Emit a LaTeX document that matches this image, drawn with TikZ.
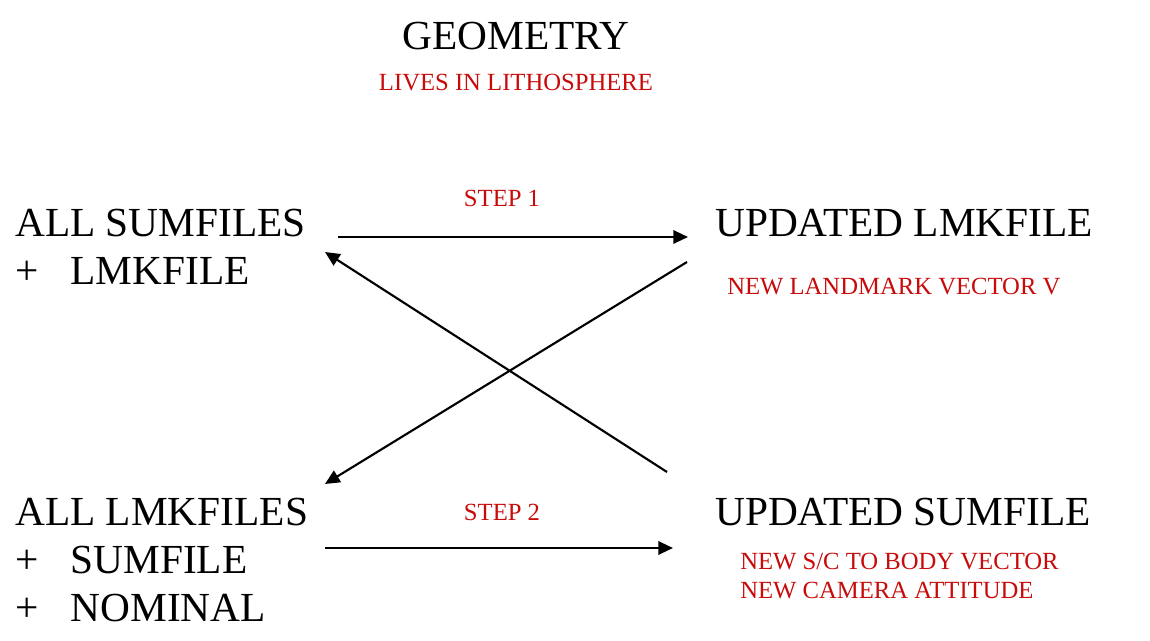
\documentclass[tikz,border=0pt]{standalone}
\usepackage{fontspec}
\setmainfont{Liberation Serif}
\usepackage{xcolor}
\usetikzlibrary{positioning, calc, arrows.meta}
\definecolor{noteRed}{RGB}{200,10,10}
\tikzset{
    bigtext/.style={
        anchor=base west,
        inner sep=0pt,
        font=\fontsize{31}{37}\selectfont
    },
    notetext/.style={
        anchor=base west,
        inner sep=0pt,
        text=noteRed,
        font=\fontsize{18.5}{22}\selectfont
    },
    ptr/.style={
        -{Triangle[length=11pt, width=10pt]},
        line width=1.6pt
    }
}
\begin{document}
\begin{tikzpicture}[x=0.75pt, y=-0.75pt]
                \useasboundingbox (0,0) rectangle (1150,641);
                % titles
                \node[bigtext, anchor=base] (geo) at (516,50) {GEOMETRY};
                \node[notetext, anchor=base] (lives) at (516,91) {LIVES IN LITHOSPHERE};
                
                % left column
                \node[bigtext] (sumall) at (15,237) {ALL SUMFILES};
                \node[bigtext] (lmkplus) at (15,285) {+\hspace{24pt}LMKFILE};
                \node[bigtext] (lmkall) at (15,525) {ALL LMKFILES};
                \node[bigtext] (sumplus) at (15,573) {+\hspace{24pt}SUMFILE};
                \node[bigtext] (nomplus) at (15,621) {+\hspace{24pt}NOMINAL};
                
                % right column
                \node[bigtext] (lmknew) at (715,237) {UPDATED LMKFILE};
                \node[notetext] (vecv) at (727,295) {NEW LANDMARK VECTOR V};
                \node[bigtext] (sumnew) at (715,525) {UPDATED SUMFILE};
                \node[notetext] (vecb) at (740,570) {NEW S/C TO BODY VECTOR};
                \node[notetext] (camatt) at (740,598) {NEW CAMERA ATTITUDE};
                
                % steps
                \node[notetext, anchor=base] (step1) at (502,207) {STEP 1};
                \node[notetext, anchor=base] (step2) at (502,521) {STEP 2};
                
                % arrow ends
                \coordinate (s1a) at (338,237);
                \coordinate (s1b) at (688,237);
                \coordinate (s2a) at (325,548);
                \coordinate (s2b) at (673,548);
                \coordinate (d1a) at (687,262);
                \coordinate (d1b) at (325,484);
                \coordinate (d2a) at (667,472);
                \coordinate (d2b) at (325,252);
                
                \draw[ptr] (s1a) -- (s1b);
                \draw[ptr] (s2a) -- (s2b);
                \draw[ptr] (d1a) -- (d1b);
                \draw[ptr] (d2a) -- (d2b);
            \end{tikzpicture}
\end{document}
